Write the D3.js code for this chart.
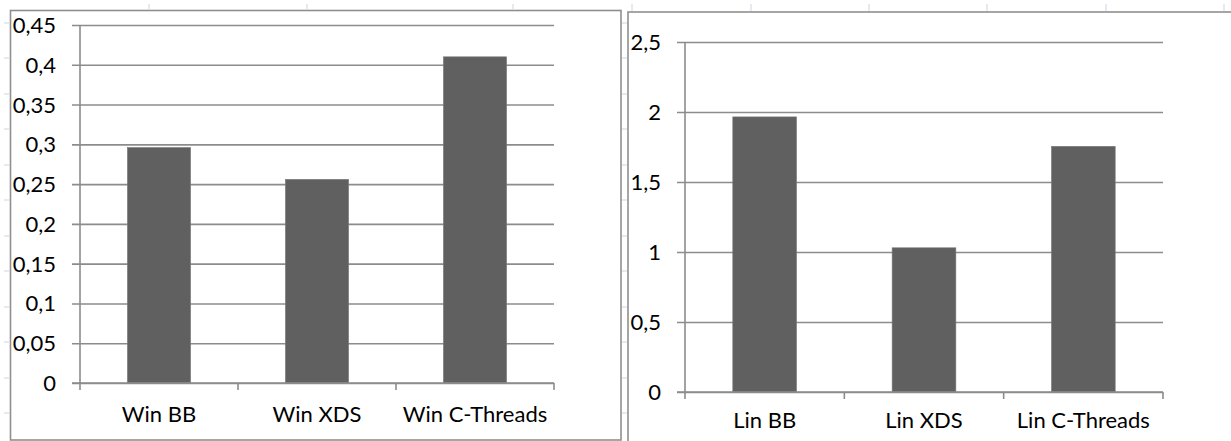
<!DOCTYPE html>
<html>
<head>
<meta charset="utf-8">
<script src="https://cdn.jsdelivr.net/npm/d3@7"></script>
<style>
  html, body { margin: 0; padding: 0; background: #fff; }
  svg { display: block; }
  text { font-family: Lato, "Open Sans", sans-serif; fill: #000; }
</style>
</head>
<body>
<svg id="chart" width="1231" height="441"></svg>
<script>
// ---- data ----
const winCategories = ["Win BB", "Win XDS", "Win C-Threads"];
const winValues = [0.296, 0.256, 0.41];
const winTicks = [0, 0.05, 0.1, 0.15, 0.2, 0.25, 0.3, 0.35, 0.4, 0.45];

const linCategories = ["Lin BB", "Lin XDS", "Lin C-Threads"];
const linValues = [1.965, 1.03, 1.755];
const linTicks = [0, 0.5, 1, 1.5, 2, 2.5];

// ---- layout / style ----
const W = 1231, H = 441;
const FONT = 22;
const GRID = "#8c8c8c";
const BAR = "#606060";
const FRAME = "#8f8f8f";
const SHEET = "#d4dbe8";

const locale = d3.formatLocale({decimal: ",", thousands: ".", grouping: [3], currency: ["", ""]});
const fmt = locale.format(".2~f");

const svg = d3.select("#chart");
svg.append("rect").attr("width", W).attr("height", H).attr("fill", "#fff");

// faint spreadsheet cell-grid marks peeking around the chart frames
const sheetRows = [23, 58, 94, 129, 165, 200, 236, 271, 307, 342, 378, 413];
const sheetColsTop = [149, 307, 513, 632, 751, 869, 987, 1106, 1224];
const deco = svg.append("g").attr("stroke", SHEET).attr("stroke-width", 1.2);
sheetRows.forEach(r => {
  deco.append("line").attr("x1", 4).attr("x2", 9).attr("y1", r).attr("y2", r);
  deco.append("line").attr("x1", 622).attr("x2", 627).attr("y1", r).attr("y2", r);
});
sheetColsTop.forEach(c => {
  deco.append("line").attr("x1", c).attr("x2", c).attr("y1", 4).attr("y2", c > 625 ? 11 : 9);
});

// frames
svg.append("rect").attr("x", 10.5).attr("y", 10.5).attr("width", 610.5).attr("height", 429.5)
  .attr("fill", "#fff").attr("stroke", FRAME).attr("stroke-width", 1.6);
svg.append("rect").attr("x", 628).attr("y", 12).attr("width", 620).attr("height", 440)
  .attr("fill", "#fff").attr("stroke", FRAME).attr("stroke-width", 1.6);

function drawChart(cfg) {
  const g = svg.append("g");
  const y = d3.scaleLinear().domain([0, cfg.max]).range([cfg.y0, cfg.yTop]);
  const x = d3.scaleBand().domain(cfg.categories).range([cfg.x0, cfg.x1])
    .paddingInner(0.6).paddingOuter(0.3);
  const xCat = d3.scaleBand().domain(cfg.categories).range([cfg.x0, cfg.x1]).padding(0);
  const plotW = cfg.x1 - cfg.x0;

  // y axis with gridlines
  const yAxis = d3.axisLeft(y).tickValues(cfg.ticks).tickFormat(fmt)
    .tickSizeInner(-plotW).tickSizeOuter(0).tickPadding(24);
  const ya = g.append("g").attr("transform", `translate(${cfg.x0},0)`).call(yAxis);
  ya.select(".domain").remove();
  ya.selectAll(".tick line").attr("x1", -8).attr("stroke", GRID).attr("stroke-width", 1.6);
  ya.selectAll(".tick text").attr("font-size", FONT).attr("font-family", null)
    .attr("fill", "#000").attr("dy", "0.34em");

  // bars
  g.selectAll("rect.bar").data(cfg.values).join("rect")
    .attr("class", "bar")
    .attr("x", (d, i) => x(cfg.categories[i]))
    .attr("width", x.bandwidth())
    .attr("y", d => y(d))
    .attr("height", d => y(0) - y(d))
    .attr("fill", BAR)
    .attr("stroke", "#7a7a7a").attr("stroke-width", 0.6);

  // vertical value axis line
  g.append("line").attr("x1", cfg.x0).attr("x2", cfg.x0)
    .attr("y1", y(cfg.max)).attr("y2", y(0))
    .attr("stroke", GRID).attr("stroke-width", 1.6);

  // category axis
  const xAxis = d3.axisBottom(xCat).tickSize(0).tickPadding(0);
  const xa = g.append("g").attr("transform", `translate(0,${cfg.y0})`).call(xAxis);
  xa.select(".domain").remove();
  xa.selectAll(".tick text").attr("font-size", FONT).attr("font-family", null)
    .attr("fill", "#000").attr("y", cfg.labelBase).attr("dy", 0);
  g.append("line").attr("x1", cfg.x0 - 8).attr("x2", cfg.x1)
    .attr("y1", y(0)).attr("y2", y(0))
    .attr("stroke", GRID).attr("stroke-width", 1.6);
  const bounds = cfg.categories.map(c => xCat(c)).concat([cfg.x1]);
  g.selectAll("line.ctick").data(bounds).join("line")
    .attr("class", "ctick")
    .attr("x1", d => d).attr("x2", d => d)
    .attr("y1", y(0)).attr("y2", y(0) + 7)
    .attr("stroke", GRID).attr("stroke-width", 1.6);
}

drawChart({
  categories: winCategories, values: winValues, ticks: winTicks, max: 0.45,
  x0: 80, x1: 554, y0: 383, yTop: 25, labelBase: 39
});
drawChart({
  categories: linCategories, values: linValues, ticks: linTicks, max: 2.5,
  x0: 685, x1: 1163, y0: 392, yTop: 42, labelBase: 36
});
</script>
</body>
</html>
